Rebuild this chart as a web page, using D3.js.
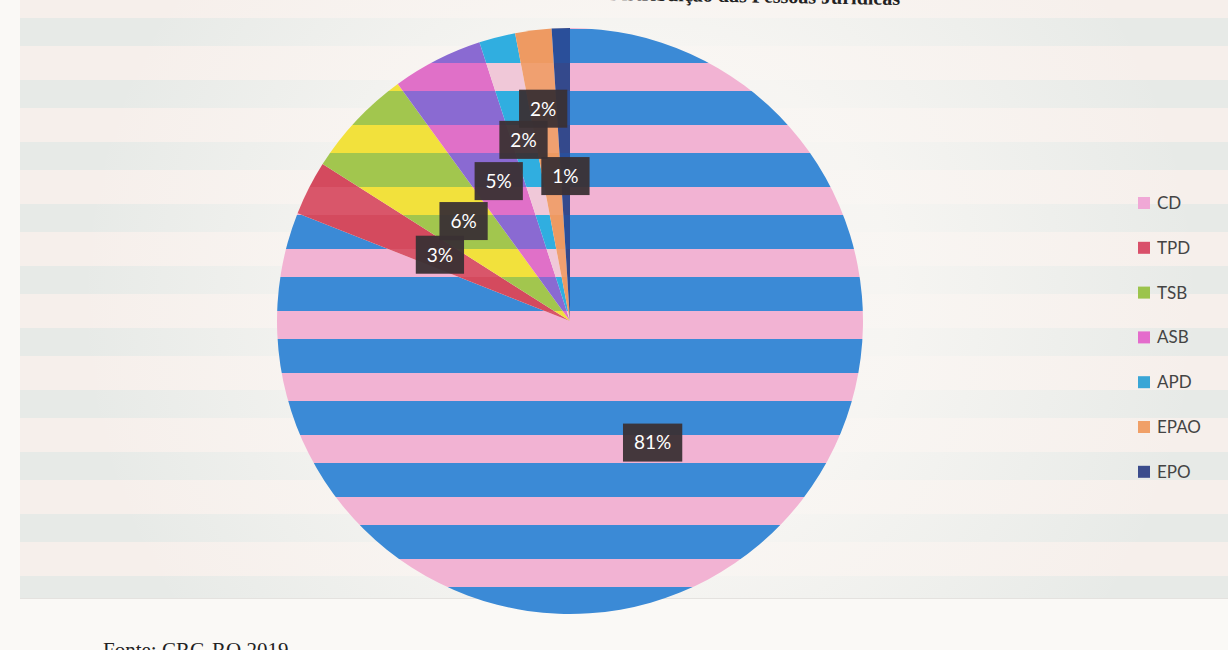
<!DOCTYPE html>
<html>
<head>
<meta charset="utf-8">
<script src="https://cdn.jsdelivr.net/npm/d3@7"></script>
<style>
  html, body { margin: 0; padding: 0; background: #faf9f6; }
  svg { display: block; }
</style>
</head>
<body>
<svg id="chart" width="1228" height="650"></svg>
<script>
// ---- data ----
const categories = ["CD", "TPD", "TSB", "ASB", "APD", "EPAO", "EPO"];
const values = [81, 3, 6, 5, 2, 2, 1];
const valueLabels = ["81%", "3%", "6%", "5%", "2%", "2%", "1%"];
const titleText = "Gráfico 3 – Distribuição das Pessoas Jurídicas";
const sourceText = "Fonte: CRG-RO 2019";

// ---- styles ----
const legendColors = ["#f0a8d6", "#d9506a", "#9cc44c", "#e46ccc", "#3aa6d6", "#f0a068", "#3a4c8c"];
const bandA = ["#3b8ad6", "#d44a5e", "#a2c64e", "#8a6ad2", "#30aee0", "#ee9a62", "#2a4f9a"];
const bandB = ["#f2b3d3", "#d9566a", "#f2e13c", "#e070c8", "#f0c8d8", "#f0a070", "#34498c"];
const labelRadius = [147, 146, 146, 157, 187, 214, 145];

const W = 1228, H = 650;
const cx = 570, cy = 321, R = 293;
const svg = d3.select("#chart");
const defs = svg.append("defs");

// background stripes pattern
const bgPat = defs.append("pattern").attr("id", "bgStripes")
  .attr("patternUnits", "userSpaceOnUse").attr("x", 0).attr("y", 0)
  .attr("width", W).attr("height", 62);
bgPat.append("rect").attr("width", W).attr("height", 62).attr("fill", "#f6efeb");
bgPat.append("rect").attr("y", 18).attr("width", W).attr("height", 28).attr("fill", "#e7eae7");

// soft white glow around the pie (scan is lighter in the middle)
const glow = defs.append("radialGradient").attr("id", "glow")
  .attr("gradientUnits", "userSpaceOnUse").attr("cx", 640).attr("cy", 300).attr("r", 560);
glow.append("stop").attr("offset", "0.45").attr("stop-color", "#f9f7f4").attr("stop-opacity", 0.85);
glow.append("stop").attr("offset", "1").attr("stop-color", "#f9f7f4").attr("stop-opacity", 0);

svg.append("rect").attr("width", W).attr("height", H).attr("fill", "#faf9f6");
svg.append("rect").attr("x", 20).attr("y", 0).attr("width", W - 20).attr("height", 598)
  .attr("fill", "url(#bgStripes)");
svg.append("rect").attr("x", 20).attr("y", 0).attr("width", W - 20).attr("height", 598)
  .attr("fill", "url(#glow)");
svg.append("line").attr("x1", 20).attr("x2", W).attr("y1", 598.5).attr("y2", 598.5)
  .attr("stroke", "#e4e2df").attr("stroke-width", 1);

// title (cut off at the top, as in the scan)
svg.append("text").attr("x", 900).attr("y", 5).attr("text-anchor", "end")
  .attr("transform", "rotate(1, 900, 5)")
  .attr("font-family", "Liberation Serif, serif").attr("font-weight", "bold")
  .attr("font-size", 20).attr("fill", "#222").text(titleText);

// source
svg.append("text").attr("x", 103).attr("y", 657)
  .attr("font-family", "Liberation Serif, serif")
  .attr("font-size", 21).attr("fill", "#222").text(sourceText);

// slice patterns
categories.forEach((c, i) => {
  const p = defs.append("pattern").attr("id", "pat" + i)
    .attr("patternUnits", "userSpaceOnUse")
    .attr("x", -cx).attr("y", -cy)
    .attr("width", W).attr("height", 62);
  p.append("rect").attr("width", W).attr("height", 62).attr("fill", bandA[i]);
  p.append("rect").attr("y", 1).attr("width", W).attr("height", 28).attr("fill", bandB[i]);
});

const pie = d3.pie().sort(null).value(d => d.v).startAngle(0).endAngle(2 * Math.PI);
const arcs = pie(categories.map((c, i) => ({ c, v: values[i], i })));
const arc = d3.arc().innerRadius(0).outerRadius(R);

const g = svg.append("g").attr("transform", `translate(${cx},${cy})`);
g.selectAll("path.slice").data(arcs).join("path")
  .attr("class", "slice")
  .attr("d", arc)
  .attr("fill", d => `url(#pat${d.data.i})`);

// data labels
const lg = g.append("g");
arcs.forEach(d => {
  const i = d.data.i;
  const a = (d.startAngle + d.endAngle) / 2;
  const r = labelRadius[i];
  const x = Math.sin(a) * r, y = -Math.cos(a) * r;
  const grp = lg.append("g").attr("transform", `translate(${x},${y})`);
  const rect = grp.append("rect").attr("fill", "#3a3034").attr("opacity", 0.95);
  const t = grp.append("text").attr("text-anchor", "middle").attr("dy", "0.36em")
    .attr("font-family", "Lato, 'Open Sans', sans-serif").attr("font-size", 19)
    .attr("fill", "#ffffff").text(valueLabels[i]);
  const tw = t.node().getComputedTextLength();
  const bw = tw + 22, bh = 38;
  rect.attr("x", -bw / 2).attr("y", -bh / 2).attr("width", bw).attr("height", bh);
});

// legend
const leg = svg.append("g").attr("transform", "translate(1138,203)");
categories.forEach((c, i) => {
  const row = leg.append("g").attr("transform", `translate(0,${i * 44.8})`);
  row.append("rect").attr("x", 0).attr("y", -6).attr("width", 12).attr("height", 12)
    .attr("fill", legendColors[i]);
  row.append("text").attr("x", 19).attr("dy", "0.35em")
    .attr("font-family", "Lato, 'Open Sans', sans-serif").attr("font-size", 17)
    .attr("fill", "#444").text(c);
});
</script>
</body>
</html>
